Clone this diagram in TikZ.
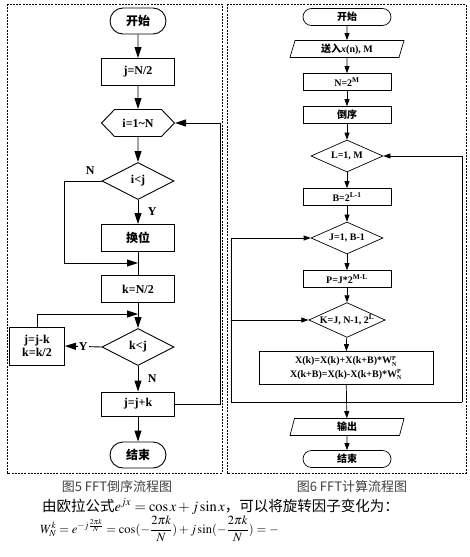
\documentclass[tikz,border=0pt]{standalone}
\usepackage{mathptmx}
\usepackage{fontspec}
\setmainfont{Liberation Serif}
\newfontfamily\cjk{Noto Sans CJK SC}
\usetikzlibrary{arrows.meta,shapes.geometric,shapes.misc,shapes.symbols}
\newcommand\zh[1]{{\cjk\bfseries #1}}
\newcommand\wnp{W$^{\scriptscriptstyle\mathbf{P}}_{\scriptscriptstyle\mathbf{N}}$}
\begin{document}
\begin{tikzpicture}[x=1pt,y=-1pt,
  lnode/.style={draw,line width=0.9pt,inner sep=0pt,font=\bfseries\fontsize{12}{13}\selectfont},
  lbox/.style={lnode,rectangle,minimum width=73pt,minimum height=27pt},
  lterm/.style={lnode,rounded rectangle,minimum width=56pt,minimum height=26pt},
  lhex/.style={lnode,signal,signal to=east and west,signal pointer angle=92,minimum width=73pt,minimum height=27pt},
  ldia/.style={lnode,diamond,aspect=2,minimum width=72pt,minimum height=37pt},
  larr/.style={line width=0.9pt,-{Triangle[length=11pt,width=7pt]}},
  lline/.style={line width=0.9pt},
  llabel/.style={font=\bfseries\fontsize{12}{13}\selectfont},
  rnode/.style={draw,line width=0.7pt,inner sep=0pt,font=\bfseries\fontsize{10}{12}\selectfont},
  rbox/.style={rnode,rectangle,minimum width=88pt,minimum height=17pt},
  rterm/.style={rnode,rounded rectangle,minimum width=88pt,minimum height=17pt},
  rpar/.style={rnode,trapezium,trapezium left angle=65,trapezium right angle=115,trapezium stretches body,minimum width=114pt,minimum height=17pt},
  rdia/.style={rnode,diamond,aspect=2.2,minimum width=72pt,minimum height=32pt},
  rarr/.style={line width=0.7pt,-{Triangle[length=7pt,width=5pt]}},
  rline/.style={line width=0.7pt},
  frame/.style={line width=0.6pt,dash pattern=on 2pt off 1.2pt},
  capt/.style={font=\cjk\fontsize{13}{14}\selectfont,text=black!75}
]
\useasboundingbox (0,0) rectangle (470,557);
\fill[white] (0,0) rectangle (470,557);

% frames
\draw[frame] (7,4) rectangle (222,473);
\draw[frame] (227,4) rectangle (466,473);

% ---------- left chart ----------
\node[lterm] (s1) at (138,21) {\zh{开始}};
\node[lbox] (a1) at (138,72) {j=N/2};
\node[lhex] (h1) at (138,123) {i=1\textasciitilde N};
\node[ldia] (d1) at (138,181) {i<j};
\node[lbox] (a2) at (138,238) {\zh{换位}};
\node[lbox] (a3) at (138,289) {k=N/2};
\node[ldia] (d2) at (138,347) {k<j};
\node[lnode,rectangle,minimum width=55pt,minimum height=38pt,align=center] (a4) at (37,346) {j=j-k\\k=k/2};
\node[lbox,minimum height=24pt] (a5) at (138,404) {j=j+k};
\node[lterm] (s2) at (138,455) {\zh{结束}};

\coordinate (m1) at (138,263);
\coordinate (c1) at (64,181);
\coordinate (m2) at (138,314);
\coordinate (r1) at (220,404);

\draw[larr] (s1) -- (a1);
\draw[larr] (a1) -- (h1);
\draw[larr] (h1) -- (d1);
\draw[larr] (d1) -- node[right=6pt,llabel]{Y} (a2);
\draw[lline] (a2) -- (a3);
\draw[larr] (d1.west) -- node[pos=0.3,above=3pt,llabel]{N} (c1) |- (m1);
\draw[larr] (a3) -- (d2);
\draw[larr] (a4.north) |- (m2);
\draw[larr] (d2.west) -- node[fill=white,inner sep=1pt,llabel]{Y} (a4.east);
\draw[larr] (d2) -- node[right=6pt,llabel]{N} (a5);
\draw[larr] (a5) -- (s2);
\draw[larr] (a5.east) -- (r1) |- (h1.east);

% ---------- right chart ----------
\node[rterm] (t1) at (347,17) {\zh{开始}};
\node[rpar] (p1) at (347,49) {\zh{送入}\textit{x}(n), M};
\node[rbox] (b1) at (347,82) {N=2\textsuperscript{M}};
\node[rbox] (b2) at (347,115) {\zh{倒序}};
\node[rdia] (e1) at (347,156) {L=1, M};
\node[rbox] (b3) at (347,197) {B=2\textsuperscript{L-1}};
\node[rdia] (e2) at (347,238) {J=1, B-1};
\node[rbox] (b4) at (347,279) {P=J*2\textsuperscript{M-L}};
\node[rdia] (e3) at (347,320) {K=J, N-1, 2\textsuperscript{L}};
\node[rnode,rectangle,minimum width=174pt,minimum height=33pt,align=center,font=\bfseries\fontsize{10}{13.5}\selectfont] (b5) at (346,368)
  {X(k)=X(k)+X(k+B)*\wnp\\X(k+B)=X(k)-X(k+B)*\wnp};
\node[rpar] (p2) at (347,427) {\zh{输出}};
\node[rterm] (t2) at (347,459) {\zh{结束}};

\coordinate (q1) at (462,402);
\coordinate (q2) at (231,402);

\draw[rarr] (t1) -- (p1);
\draw[rarr] (p1) -- (b1);
\draw[rarr] (b1) -- (b2);
\draw[rarr] (b2) -- (e1);
\draw[rarr] (e1) -- (b3);
\draw[rarr] (b3) -- (e2);
\draw[rarr] (e2) -- (b4);
\draw[rarr] (b4) -- (e3);
\draw[rarr] (e3) -- (b5);
\draw[rarr] (b5) -- (p2);
\draw[rarr] (p2) -- (t2);
\draw[rline] (q2) -- (q1);
\draw[rarr] (q1) |- (e1.east);
\draw[rarr] (q2) |- (e2.west);
\draw[rarr] (e3.west -| q2) -- (e3.west);

% ---------- captions and text ----------
\node[capt] (cap5) at (117,487) {图5 FFT倒序流程图};
\node[capt] (cap6) at (352,487) {图6 FFT计算流程图};
\node[anchor=base west,inner sep=0pt,font=\fontsize{14.5}{16}\selectfont] (l3) at (42,511)
  {{\cjk 由欧拉公式}$e^{jx}=\cos x+j\sin x${\cjk ，可以将旋转因子变化为：}};
\node[anchor=base west,inner sep=0pt,font=\fontsize{12.5}{15}\selectfont] (l4) at (40,533)
  {$W_N^k=e^{-j\frac{2\pi k}{N}}=\cos(-{\displaystyle\frac{2\pi k}{N}})+j\sin(-{\displaystyle\frac{2\pi k}{N}})=-$};
\end{tikzpicture}
\end{document}
